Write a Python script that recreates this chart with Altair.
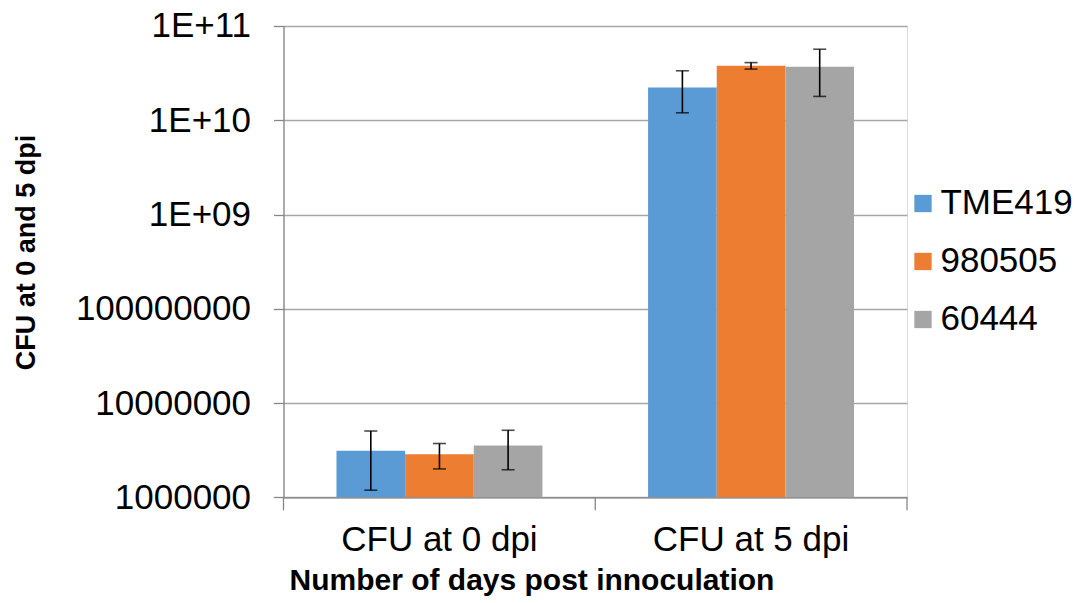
import altair as alt
import pandas as pd

categories = ["CFU at 0 dpi", "CFU at 5 dpi"]
series = ["TME419", "980505", "60444"]
colors = ["#5b9bd5", "#ed7d31", "#a5a5a5"]

mean_0dpi = [3.11e6, 2.87e6, 3.54e6]
mean_5dpi = [2.23e10, 3.78e10, 3.69e10]
upper_0dpi = [5.05e6, 3.72e6, 5.14e6]
upper_5dpi = [3.35e10, 4.09e10, 5.67e10]
lower_0dpi = [1.19e6, 2.00e6, 1.96e6]
lower_5dpi = [1.20e10, 3.49e10, 1.79e10]

tick_values = [1e6, 1e7, 1e8, 1e9, 1e10, 1e11]
tick_labels = ["1000000", "10000000", "100000000", "1E+09", "1E+10", "1E+11"]

rows = []
for cat, means, ups, los in [
    (categories[0], mean_0dpi, upper_0dpi, lower_0dpi),
    (categories[1], mean_5dpi, upper_5dpi, lower_5dpi),
]:
    for s, m, u, l in zip(series, means, ups, los):
        rows.append({"cat": cat, "series": s, "mean": m, "upper": u, "lower": l})
df = pd.DataFrame(rows)
bounds_df = pd.DataFrame({"b": list(range(len(categories) + 1))})

# label expression from tick lists
expr = "''"
for v, lab in reversed(list(zip(tick_values, tick_labels))):
    expr = f"abs(log(datum.value)/log(10) - {len(str(int(v))) - 1}) < 0.01 ? '{lab}' : " + expr

FONT = "Liberation Sans"
W, H = 623.5, 471.3
P_IN, P_OUT = 0.339, 0.17

x_scale = alt.Scale(domain=categories, paddingInner=P_IN, paddingOuter=P_OUT)
x_enc = alt.X(
    "cat:N",
    sort=categories,
    scale=x_scale,
    axis=alt.Axis(
        title="Number of days post innoculation",
        titleFont=FONT, titleFontSize=30, titleFontWeight="bold", titleColor="#000000",
        titleX=248, titleY=83, titleAlign="center", titleBaseline="middle",
        labelFont=FONT, labelFontSize=35, labelColor="#000000", labelAngle=0,
        labelPadding=25, labelLimit=0, ticks=False, tickSize=0,
        domainColor="#868686", domainWidth=1.3, grid=False,
    ),
)
x_plain = alt.X("cat:N", sort=categories, scale=x_scale, axis=None)
xoff = alt.XOffset(
    "series:N", sort=series,
    scale=alt.Scale(domain=series, paddingInner=0, paddingOuter=0),
)
y_scale = alt.Scale(type="log", domain=[1e6, 1e11], nice=False)

bars = alt.Chart(df).mark_bar().encode(
    x=x_enc,
    xOffset=xoff,
    y=alt.Y(
        "mean:Q", scale=y_scale, stack=None,
        axis=alt.Axis(
            values=tick_values, labelExpr=expr,
            title="CFU  at  0 and 5 dpi",
            titleFont=FONT, titleFontSize=27, titleFontWeight="bold", titleColor="#000000",
            titleX=-257, titleY=226, titleAngle=-90, titleAlign="center", titleBaseline="middle",
            labelFont=FONT, labelFontSize=35, labelColor="#000000", labelPadding=23,
            tickSize=10, tickColor="#868686", tickWidth=1.3,
            domainColor="#868686", domainWidth=1.3,
            grid=True, gridColor="#a6a6a6", gridWidth=1.3,
        ),
    ),
    y2=alt.Y2Datum(1e6),
    color=alt.Color(
        "series:N", sort=series,
        scale=alt.Scale(domain=series, range=colors),
        legend=alt.Legend(
            title=None, orient="none", legendX=622, legendY=160,
            symbolType="square", symbolSize=300, symbolStrokeWidth=0,
            labelFont=FONT, labelFontSize=35, labelColor="#000000",
            labelOffset=0, rowPadding=22, labelLimit=0,
        ),
    ),
)

err = alt.Chart(df).mark_rule(color="#000000", strokeWidth=1.6).encode(
    x=x_plain,
    xOffset=xoff,
    y=alt.Y("lower:Q", scale=y_scale),
    y2="upper:Q",
)
cap_lo = alt.Chart(df).mark_tick(color="#000000", thickness=1.6, size=13).encode(
    x=x_plain,
    xOffset=xoff,
    y=alt.Y("lower:Q", scale=y_scale),
)
cap_hi = alt.Chart(df).mark_tick(color="#000000", thickness=1.6, size=13).encode(
    x=x_plain,
    xOffset=xoff,
    y=alt.Y("upper:Q", scale=y_scale),
)

# category boundary ticks on the x axis
bounds = alt.Chart(bounds_df).mark_rule(color="#868686", strokeWidth=1.3).encode(
    x=alt.X("b:Q", scale=alt.Scale(domain=[0, len(categories)], nice=False, zero=False), axis=None),
    y=alt.value(H),
    y2=alt.value(H + 13),
)

chart = alt.layer(bars, err, cap_lo, cap_hi, bounds).resolve_scale(
    x="independent"
).properties(
    width=W, height=H,
    autosize=alt.AutoSizeParams(type="none"),
    padding={"left": 275.5, "top": 18, "right": 174, "bottom": 100},
).configure_view(stroke=None).configure(background="#ffffff")

chart.save("out.html", embed_options={"renderer": "svg", "actions": False})
